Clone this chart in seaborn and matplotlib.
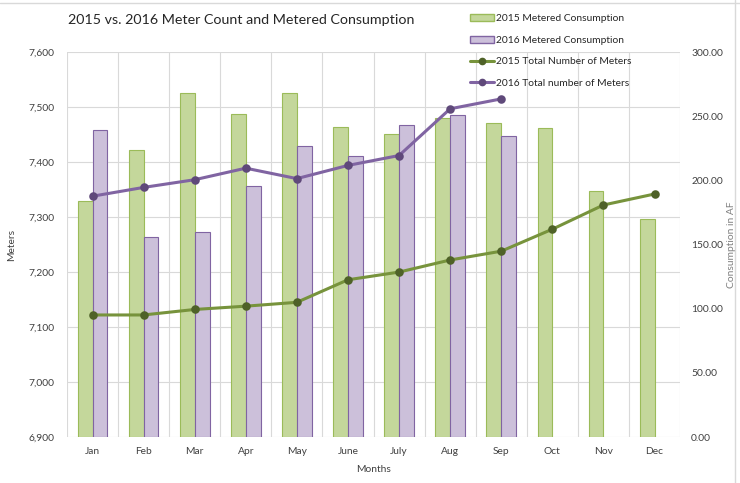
import numpy as np
import pandas as pd
import matplotlib
matplotlib.use('Agg')
import matplotlib.pyplot as plt
from matplotlib.lines import Line2D
from matplotlib.patches import Patch
from matplotlib.ticker import MultipleLocator, FuncFormatter
import seaborn as sns

# Data
months = ['Jan', 'Feb', 'Mar', 'Apr', 'May', 'June', 'July', 'Aug', 'Sep', 'Oct', 'Nov', 'Dec']
cons_2015 = [184, 224, 268, 252, 268, 242, 236, 249, 245, 241, 192, 170]
cons_2016 = [239, 156, 160, 196, 227, 219, 243, 251, 235, np.nan, np.nan, np.nan]
meters_2015 = [7122, 7122, 7132, 7138, 7145, 7186, 7200, 7222, 7238, 7278, 7322, 7342]
meters_2016 = [7338, 7354, 7368, 7389, 7370, 7394, 7412, 7497, 7515, np.nan, np.nan, np.nan]

bar_labels = ['2015 Metered Consumption', '2016 Metered Consumption']
line_labels = ['2015 Total Number of Meters', '2016 Total number of Meters']

cons = pd.DataFrame({'Month': months * 2,
                     'Series': [bar_labels[0]] * 12 + [bar_labels[1]] * 12,
                     'AF': cons_2015 + cons_2016})
mtr = pd.DataFrame({'Month': months * 2,
                    'Series': [line_labels[0]] * 12 + [line_labels[1]] * 12,
                    'Meters': meters_2015 + meters_2016})

# Colours
bar_fill = ['#c4d79b', '#ccc0da']
bar_edge = ['#9bbb59', '#8064a2']
line_col = ['#77933c', '#8064a2']
mark_col = ['#4f6228', '#5f497a']
grid_col = '#d9d9d9'
text_col = '#404040'
fs = 7.4

sns.set_theme(style='white')
plt.rcParams['font.family'] = ['Lato', 'DejaVu Sans']

fig, ax = plt.subplots(figsize=(7.4, 4.83), dpi=100)
fig.subplots_adjust(left=0.0905, right=0.919, bottom=0.0952, top=0.892)

# Bars on the right (consumption) axis
ax2 = ax.twinx()
sns.barplot(data=cons, x='Month', y='AF', hue='Series', order=months,
            hue_order=bar_labels, palette=bar_fill, width=0.58, saturation=1,
            errorbar=None, legend=False, ax=ax2)
for cont, ec in zip(ax2.containers, bar_edge):
    for p in cont:
        p.set_edgecolor(ec)
        p.set_linewidth(0.8)

# Lines on the meters scale, drawn on top
ax3 = ax.twinx()
sns.pointplot(data=mtr, x='Month', y='Meters', hue='Series', order=months,
              hue_order=line_labels, palette=line_col, markers='o',
              errorbar=None, legend=False, linewidth=2.2, markersize=4.5, ax=ax3)
for ln, mc in zip(ax3.lines, mark_col):
    ln.set_markerfacecolor(mc)
    ln.set_markeredgecolor(mc)

# Left axis / grid
ax.set_ylim(6900, 7600)
ax.yaxis.set_major_locator(MultipleLocator(100))
ax.yaxis.set_major_formatter(FuncFormatter(lambda v, p: f'{v:,.0f}'))
ax.set_xlim(-0.5, 11.5)
ax.set_xticks(range(12))
ax.set_xticklabels(months)
ax.set_xticks(np.arange(-0.5, 12, 1), minor=True)
ax.grid(axis='y', which='major', color=grid_col, lw=0.8)
ax.grid(axis='x', which='minor', color=grid_col, lw=0.8)
ax.grid(axis='x', which='major', visible=False)
ax.set_axisbelow(True)
ax.tick_params(axis='both', which='both', length=0, labelsize=fs, colors=text_col)
ax.tick_params(axis='y', pad=9)
ax.tick_params(axis='x', pad=7)
ax.set_ylabel('Meters', fontsize=fs, color=text_col, labelpad=9)
ax.set_xlabel('Months', fontsize=fs, color=text_col, labelpad=7)

ax2.set_ylim(0, 300)
ax2.yaxis.set_major_locator(MultipleLocator(50))
ax2.yaxis.set_major_formatter(FuncFormatter(lambda v, p: f'{v:.2f}'))
ax2.tick_params(axis='y', length=0, labelsize=fs, colors=text_col, pad=8)
ax2.set_ylabel('Consumption in AF', fontsize=fs, color='#7f7f7f', labelpad=3)
ax2.set_xlabel('')

ax3.set_ylim(6900, 7600)
ax3.set_yticks([])
ax3.set_ylabel('')
ax3.set_xlabel('')
ax3.set_xlim(-0.5, 11.5)

for a in (ax, ax2, ax3):
    for s in a.spines.values():
        s.set_visible(False)

fig.text(68 / 740, 1 - 20 / 483, '2015 vs. 2016 Meter Count and Metered Consumption',
         ha='left', va='center', fontsize=10.3, color='#262626')

handles = [Patch(facecolor=bar_fill[i], edgecolor=bar_edge[i]) for i in range(2)]
handles += [Line2D([], [], color=line_col[i], lw=2.2, marker='o', markersize=4.5,
                   markerfacecolor=mark_col[i], markeredgecolor=mark_col[i]) for i in range(2)]
fig.legend(handles, bar_labels + line_labels, loc='upper left',
           bbox_to_anchor=(466 / 740, 1 - 10 / 483), frameon=False, fontsize=fs,
           handlelength=2.3, handleheight=0.7, handletextpad=0.2, labelspacing=1.2,
           borderaxespad=0, labelcolor='#262626')

# chart-area border like the spreadsheet export
fig.add_artist(Line2D([0, 1], [1 - 3 / 483] * 2, transform=fig.transFigure, color=grid_col, lw=1))
fig.add_artist(Line2D([735 / 740] * 2, [0, 1], transform=fig.transFigure, color=grid_col, lw=1))

fig.savefig('out.png', dpi=100)
